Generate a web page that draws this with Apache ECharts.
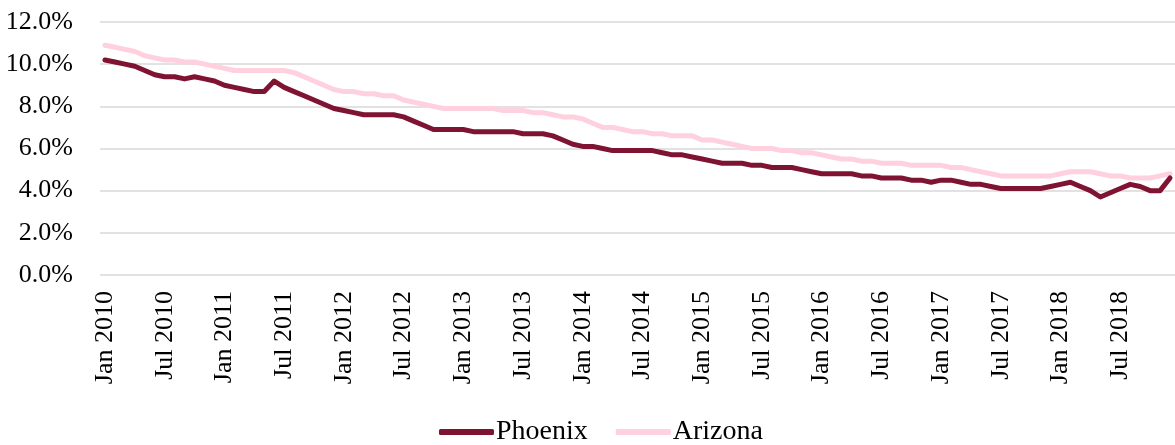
<!DOCTYPE html>
<html style="height: 100%;width:100%">
<head>
	<title>Unemployment Rate</title>
	<meta charset="UTF-8">
	<script src="https://cdn.jsdelivr.net/npm/echarts@6/dist/echarts.min.js"></script>
	<style type="text/css">
		body{ height:100%;width:100%; margin:0px; background-color:#FFFFFF; }
		#container{ width:1175px; height:445px; }
	</style>
</head>
<body>
<div id="container"></div>

<script type="text/javascript">

// month/year pieces used to build the category labels
var monthNames = ['Jan', 'Feb', 'Mar', 'Apr', 'May', 'Jun', 'Jul', 'Aug', 'Sep', 'Oct', 'Nov', 'Dec'];
var years = [2010, 2011, 2012, 2013, 2014, 2015, 2016, 2017, 2018];

// unemployment rate, %, monthly Jan 2010 - Dec 2018
var phoenix = [
	10.2, 10.1, 10.0, 9.9, 9.7, 9.5, 9.4, 9.4, 9.3, 9.4, 9.3, 9.2,
	9.0, 8.9, 8.8, 8.7, 8.7, 9.2, 8.9, 8.7, 8.5, 8.3, 8.1, 7.9,
	7.8, 7.7, 7.6, 7.6, 7.6, 7.6, 7.5, 7.3, 7.1, 6.9, 6.9, 6.9,
	6.9, 6.8, 6.8, 6.8, 6.8, 6.8, 6.7, 6.7, 6.7, 6.6, 6.4, 6.2,
	6.1, 6.1, 6.0, 5.9, 5.9, 5.9, 5.9, 5.9, 5.8, 5.7, 5.7, 5.6,
	5.5, 5.4, 5.3, 5.3, 5.3, 5.2, 5.2, 5.1, 5.1, 5.1, 5.0, 4.9,
	4.8, 4.8, 4.8, 4.8, 4.7, 4.7, 4.6, 4.6, 4.6, 4.5, 4.5, 4.4,
	4.5, 4.5, 4.4, 4.3, 4.3, 4.2, 4.1, 4.1, 4.1, 4.1, 4.1, 4.2,
	4.3, 4.4, 4.2, 4.0, 3.7, 3.9, 4.1, 4.3, 4.2, 4.0, 4.0, 4.6
];
var arizona = [
	10.9, 10.8, 10.7, 10.6, 10.4, 10.3, 10.2, 10.2, 10.1, 10.1, 10.0, 9.9,
	9.8, 9.7, 9.7, 9.7, 9.7, 9.7, 9.7, 9.6, 9.4, 9.2, 9.0, 8.8,
	8.7, 8.7, 8.6, 8.6, 8.5, 8.5, 8.3, 8.2, 8.1, 8.0, 7.9, 7.9,
	7.9, 7.9, 7.9, 7.9, 7.8, 7.8, 7.8, 7.7, 7.7, 7.6, 7.5, 7.5,
	7.4, 7.2, 7.0, 7.0, 6.9, 6.8, 6.8, 6.7, 6.7, 6.6, 6.6, 6.6,
	6.4, 6.4, 6.3, 6.2, 6.1, 6.0, 6.0, 6.0, 5.9, 5.9, 5.8, 5.8,
	5.7, 5.6, 5.5, 5.5, 5.4, 5.4, 5.3, 5.3, 5.3, 5.2, 5.2, 5.2,
	5.2, 5.1, 5.1, 5.0, 4.9, 4.8, 4.7, 4.7, 4.7, 4.7, 4.7, 4.7,
	4.8, 4.9, 4.9, 4.9, 4.8, 4.7, 4.7, 4.6, 4.6, 4.6, 4.7, 4.8
];
var yTicks = [0, 2, 4, 6, 8, 10, 12];

var categories = [];
for (var y = 0; y < years.length; y++) {
	for (var m = 0; m < monthNames.length; m++) {
		categories.push(monthNames[m] + ' ' + years[y]);
	}
}

var fontName = "'Liberation Serif', 'Times New Roman', serif";

var dom = document.getElementById("container");
var myChart = echarts.init(dom);
var option = {
	animation: false,
	textStyle: { fontFamily: fontName, color: '#000000' },
	grid: { left: 100, right: -5, top: 22, bottom: 170, containLabel: false },
	legend: {
		bottom: -6,
		left: 434,
		icon: 'roundRect',
		itemWidth: 55,
		itemHeight: 6,
		itemGap: 28,
		textStyle: { fontFamily: fontName, fontSize: 28, color: '#000000', padding: [0, 0, 0, -3] },
		data: ['Phoenix', 'Arizona']
	},
	xAxis: {
		type: 'category',
		data: categories,
		boundaryGap: true,
		axisLine: { show: false },
		axisTick: { show: false },
		axisLabel: {
			interval: 5,
			rotate: 90,
			margin: 16,
			fontFamily: fontName,
			fontSize: 26,
			color: '#000000'
		}
	},
	yAxis: {
		type: 'value',
		min: yTicks[0],
		max: yTicks[yTicks.length - 1],
		interval: 2,
		axisLine: { show: false },
		axisTick: { show: false },
		splitLine: { lineStyle: { color: '#D9D9D9', width: 1.5 } },
		axisLabel: {
			margin: 27,
			fontFamily: fontName,
			fontSize: 26,
			color: '#000000',
			formatter: function (v) { return v.toFixed(1) + '%'; }
		}
	},
	series: [
		{
			name: 'Phoenix',
			type: 'line',
			data: phoenix,
			symbol: 'none',
			z: 3,
			color: '#7E1431',
			lineStyle: { color: '#7E1431', width: 5, cap: 'round', join: 'round' }
		},
		{
			name: 'Arizona',
			type: 'line',
			data: arizona,
			symbol: 'none',
			z: 2,
			color: '#FFD0DE',
			lineStyle: { color: '#FFD0DE', width: 5, cap: 'round', join: 'round' }
		}
	]
};

myChart.setOption(option, true);

window.onresize = function() {
	myChart.resize();
};

</script>
</body>
</html>
